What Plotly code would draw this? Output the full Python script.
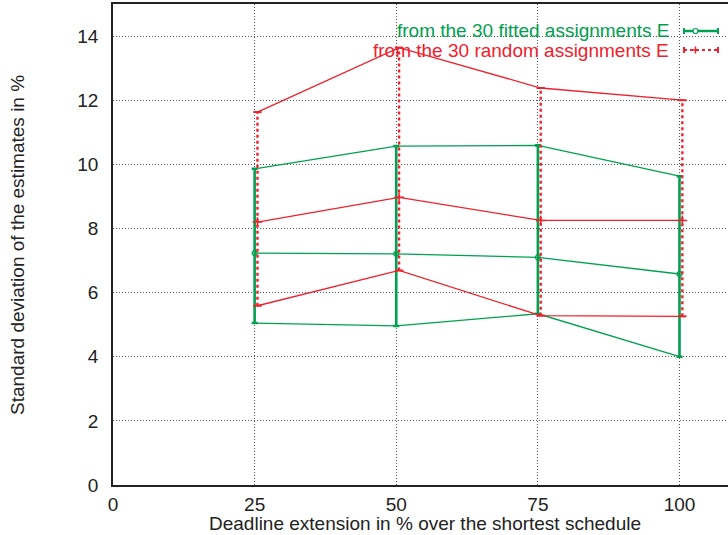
import plotly.graph_objects as go

# ---- data ----
deadline_ext = [25, 50, 75, 100]
fitted_mean = [7.23, 7.21, 7.10, 6.58]
fitted_low = [5.05, 4.96, 5.34, 4.00]
fitted_high = [9.86, 10.57, 10.59, 9.63]
random_mean = [8.20, 8.97, 8.25, 8.25]
random_low = [5.59, 6.69, 5.28, 5.26]
random_high = [11.63, 13.64, 12.38, 12.00]
x_ticks = [0, 25, 50, 75, 100]
y_ticks = [0, 2, 4, 6, 8, 10, 12, 14]
fitted_label = "from the 30 fitted assignments E"
random_label = "from the 30 random assignments E"

GREEN = "#00a050"
RED = "#f0202c"
FONT = "Liberation Sans, Arial, Helvetica, sans-serif"
FS = 19

W, H = 728, 535
L, R, T, B = 113, 0, 4, 50

fig = go.Figure()

# green (fitted) series
xg = deadline_ext
for ys in (fitted_high, fitted_low):
    fig.add_trace(go.Scatter(x=xg, y=ys, mode="lines",
                             line=dict(color=GREEN, width=1.3), showlegend=False, hoverinfo="skip"))
fig.add_trace(go.Scatter(
    x=xg, y=fitted_mean, mode="lines+markers",
    line=dict(color=GREEN, width=1.3),
    marker=dict(symbol="circle-open", size=5, color=GREEN, line=dict(width=1.2)),
    error_y=dict(type="data", symmetric=False,
                 array=[h - m for h, m in zip(fitted_high, fitted_mean)],
                 arrayminus=[m - l for m, l in zip(fitted_mean, fitted_low)],
                 color=GREEN, thickness=2.6, width=3),
    showlegend=False))

# red (random) series, slightly offset in x
xr = [d + 0.5 for d in deadline_ext]
for ys in (random_high, random_low):
    fig.add_trace(go.Scatter(x=xr, y=ys, mode="lines",
                             line=dict(color=RED, width=1.3), showlegend=False, hoverinfo="skip"))
for x, lo, hi in zip(xr, random_low, random_high):
    fig.add_trace(go.Scatter(x=[x, x], y=[lo, hi], mode="lines+markers",
                             line=dict(color=RED, width=2.4, dash="dot"),
                             marker=dict(symbol="line-ew", size=6, color=RED, line=dict(width=2, color=RED)),
                             showlegend=False, hoverinfo="skip"))
fig.add_trace(go.Scatter(
    x=xr, y=random_mean, mode="lines+markers",
    line=dict(color=RED, width=1.3),
    marker=dict(symbol="cross-thin", size=7, color=RED, line=dict(width=1.5, color=RED)),
    showlegend=False))

# ---- legend (manual, gnuplot style) ----
def px(xp):
    return (xp - L) / (W - L - R)

def py(yp):
    return (H - B - yp) / (H - T - B)

shapes = []
annotations = []
for label, color, ypix, dash in ((fitted_label, GREEN, 31, "solid"), (random_label, RED, 50, "dot")):
    annotations.append(dict(x=px(671), y=py(ypix), xref="paper", yref="paper", text=label,
                            showarrow=False, xanchor="right", yanchor="middle",
                            font=dict(family=FONT, size=FS, color=color)))
    shapes.append(dict(type="line", xref="paper", yref="paper", x0=px(684), x1=px(718),
                       y0=py(ypix), y1=py(ypix),
                       line=dict(color=color, width=2.4 if dash == "solid" else 2, dash=dash)))
    for xe in (684, 718):
        shapes.append(dict(type="line", xref="paper", yref="paper", x0=px(xe), x1=px(xe),
                           y0=py(ypix - 3), y1=py(ypix + 3), line=dict(color=color, width=2)))
# sample markers
shapes.append(dict(type="circle", xref="paper", yref="paper", x0=px(693), x1=px(698),
                   y0=py(28.5), y1=py(33.5), line=dict(color=GREEN, width=1.2), fillcolor="white"))
shapes.append(dict(type="line", xref="paper", yref="paper", x0=px(692), x1=px(699),
                   y0=py(50), y1=py(50), line=dict(color=RED, width=1.5)))
shapes.append(dict(type="line", xref="paper", yref="paper", x0=px(695.5), x1=px(695.5),
                   y0=py(46.5), y1=py(53.5), line=dict(color=RED, width=1.5)))

# axis titles
annotations.append(dict(x=px(425), y=py(523), xref="paper", yref="paper",
                        text="Deadline extension in % over the shortest schedule",
                        showarrow=False, xanchor="center", yanchor="middle",
                        font=dict(family=FONT, size=FS, color="#222")))
annotations.append(dict(x=px(17), y=py(245), xref="paper", yref="paper",
                        text="Standard deviation of the estimates in %", textangle=-90,
                        showarrow=False, xanchor="center", yanchor="middle",
                        font=dict(family=FONT, size=FS, color="#222")))

fig.update_layout(
    width=W, height=H,
    margin=dict(l=L, r=R, t=T, b=B, pad=0),
    plot_bgcolor="white", paper_bgcolor="white",
    font=dict(family=FONT, size=FS, color="#222"),
    shapes=shapes, annotations=annotations,
    xaxis=dict(range=[0, (W - L - R) / 5.665], tickvals=x_ticks, ticks="", showgrid=True,
               gridcolor="#555", griddash="1px,2px", gridwidth=1, zeroline=False,
               showline=True, linecolor="#222", linewidth=1.6, mirror=True,
               ticklabelstandoff=1),
    yaxis=dict(range=[0, 15], tickvals=y_ticks, ticks="", showgrid=True,
               gridcolor="#555", griddash="1px,2px", gridwidth=1, zeroline=False,
               showline=True, linecolor="#222", linewidth=1.6, mirror=False,
               ticklabelstandoff=9),
)

fig.write_html("out.html")
